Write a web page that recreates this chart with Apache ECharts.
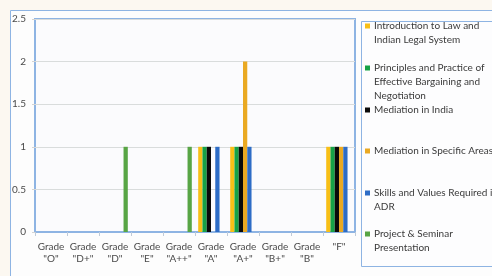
<!DOCTYPE html>
<html>
<head>
<meta charset="utf-8">
<script src="https://cdn.jsdelivr.net/npm/echarts@6/dist/echarts.min.js"></script>
<style>
  html, body { margin: 0; padding: 0; background: #fcf8f1; }
  #chart { width: 492px; height: 276px; }
</style>
</head>
<body>
<div id="chart"></div>
<script>
// grades on the x axis
const grades = ['Grade\n"O"', 'Grade\n"D+"', 'Grade\n"D"', 'Grade\n"E"', 'Grade\n"A++"',
                'Grade\n"A"', 'Grade\n"A+"', 'Grade\n"B+"', 'Grade\n"B"', '"F"'];
const yTicks = [0, 0.5, 1, 1.5, 2, 2.5];

// counts per subject, in grade order
const introLaw     = [0, 0, 0, 0, 0, 1, 1, 0, 0, 1];
const principles   = [0, 0, 0, 0, 0, 1, 1, 0, 0, 1];
const medIndia     = [0, 0, 0, 0, 0, 1, 1, 0, 0, 1];
const medSpecific  = [0, 0, 0, 0, 0, 0, 2, 0, 0, 1];
const skillsADR    = [0, 0, 0, 0, 0, 1, 1, 0, 0, 1];
const projSeminar  = [0, 0, 1, 0, 1, 0, 0, 0, 0, 0];

const subjects = [
  { name: 'Introduction to Law and Indian Legal System', lines: ['Introduction to Law and', 'Indian Legal System'], data: introLaw, color: '#f8bf17', y: 26 },
  { name: 'Principles and Practice of Effective Bargaining and Negotiation', lines: ['Principles and Practice of', 'Effective Bargaining and', 'Negotiation'], data: principles, color: '#16a247', y: 68 },
  { name: 'Mediation in India', lines: ['Mediation in India'], data: medIndia, color: '#0a0a0a', y: 110 },
  { name: 'Mediation in Specific Areas', lines: ['Mediation in Specific Areas'], data: medSpecific, color: '#eaa922', y: 151 },
  { name: 'Skills and Values Required in ADR', lines: ['Skills and Values Required in', 'ADR'], data: skillsADR, color: '#2d6cc6', y: 193 },
  { name: 'Project & Seminar Presentation', lines: ['Project & Seminar', 'Presentation'], data: projSeminar, color: '#58a545', y: 234 }
];

const LH = 14;
const font = 'Lato';

// one legend per entry so the icons sit on the first text line
const legends = subjects.map(s => {
  const pad = s.lines.length - 1;
  const text = '\n'.repeat(pad) + s.lines.join('\n');
  const total = pad * 2 + 1;
  return {
    data: [s.name],
    left: 365,
    top: s.y - total * LH / 2,
    orient: 'vertical',
    padding: 0,
    itemWidth: 5,
    itemHeight: 5,
    icon: 'rect',
    selectedMode: false,
    formatter: () => text,
    textStyle: { fontFamily: font, fontSize: 10, color: '#3a3a3a', lineHeight: LH, padding: [0, 0, 0, -1] }
  };
});

const chart = echarts.init(document.getElementById('chart'), null, { renderer: 'canvas' });
chart.setOption({
  animation: false,
  backgroundColor: '#fcf8f1',
  graphic: [
    { type: 'rect', z: -10, shape: { x: 10.5, y: 10.5, width: 520, height: 300 },
      style: { fill: '#fdfdfd', stroke: '#8eb4e3', lineWidth: 1 } },
    { type: 'rect', z: -5, shape: { x: 361.5, y: 21.5, width: 200, height: 245 },
      style: { fill: '#fdfdfe', stroke: '#8eb4e3', lineWidth: 1 } }
  ],
  legend: legends,
  grid: {
    left: 35, top: 19, width: 320, height: 213,
    show: true, backgroundColor: '#fbfbfd', borderColor: '#8eb4e3', borderWidth: 2
  },
  xAxis: {
    type: 'category',
    data: grades,
    axisLine: { lineStyle: { color: '#8eb4e3', width: 1 } },
    axisTick: { show: true, length: 4, lineStyle: { color: '#bfcbd9' } },
    axisLabel: { interval: 0, fontFamily: font, fontSize: 10, color: '#4a4a4a', lineHeight: 12, margin: 9 }
  },
  yAxis: {
    type: 'value',
    min: yTicks[0], max: yTicks[yTicks.length - 1], interval: 0.5,
    axisLine: { show: false },
    axisTick: { show: true, length: 3, lineStyle: { color: '#d4d4d4' } },
    splitLine: { lineStyle: { color: '#d9dcdc' } },
    axisLabel: { fontFamily: font, fontSize: 10, color: '#4a4a4a', margin: 9 }
  },
  series: subjects.map(s => ({
    name: s.name,
    type: 'bar',
    data: s.data,
    barGap: '0%',
    barCategoryGap: '20%',
    itemStyle: { color: s.color }
  }))
});
</script>
</body>
</html>
